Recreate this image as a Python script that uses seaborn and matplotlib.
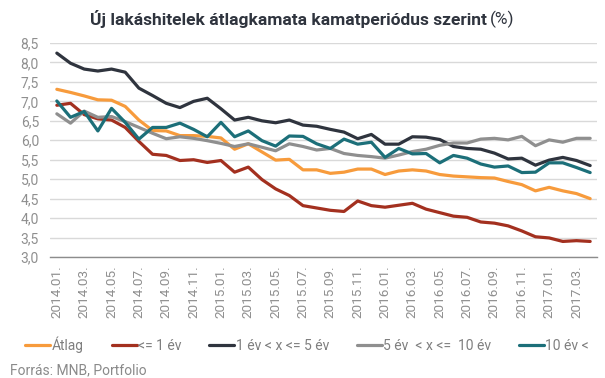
import matplotlib
matplotlib.use("Agg")
import matplotlib.pyplot as plt
import seaborn as sns
import pandas as pd
import numpy as np

months = ["2014.01.", "2014.02.", "2014.03.", "2014.04.", "2014.05.", "2014.06.", "2014.07.", "2014.08.",
          "2014.09.", "2014.10.", "2014.11.", "2014.12.", "2015.01.", "2015.02.", "2015.03.", "2015.04.",
          "2015.05.", "2015.06.", "2015.07.", "2015.08.", "2015.09.", "2015.10.", "2015.11.", "2015.12.",
          "2016.01.", "2016.02.", "2016.03.", "2016.04.", "2016.05.", "2016.06.", "2016.07.", "2016.08.",
          "2016.09.", "2016.10.", "2016.11.", "2016.12.", "2017.01.", "2017.02.", "2017.03.", "2017.04."]
tick_labels = months[::2]

atlag = [7.31, 7.23, 7.14, 7.04, 7.03, 6.87, 6.52, 6.25, 6.24, 6.12,
         6.12, 6.10, 6.06, 5.77, 5.91, 5.70, 5.49, 5.51, 5.24, 5.24,
         5.15, 5.18, 5.26, 5.26, 5.12, 5.21, 5.24, 5.21, 5.12, 5.08,
         5.06, 5.04, 5.03, 4.94, 4.86, 4.70, 4.79, 4.70, 4.63, 4.50]
le1 = [6.90, 6.95, 6.66, 6.55, 6.52, 6.33, 5.97, 5.64, 5.61, 5.48,
       5.50, 5.43, 5.48, 5.18, 5.31, 4.99, 4.75, 4.58, 4.32, 4.26,
       4.20, 4.17, 4.44, 4.32, 4.28, 4.33, 4.38, 4.23, 4.14, 4.05,
       4.02, 3.90, 3.87, 3.80, 3.67, 3.52, 3.49, 3.40, 3.42, 3.40]
y1_5 = [8.24, 7.98, 7.83, 7.78, 7.83, 7.75, 7.34, 7.15, 6.95, 6.84,
        7.00, 7.08, 6.81, 6.52, 6.59, 6.50, 6.45, 6.52, 6.39, 6.36,
        6.28, 6.21, 6.04, 6.15, 5.90, 5.90, 6.09, 6.08, 6.02, 5.84,
        5.79, 5.77, 5.67, 5.52, 5.54, 5.36, 5.49, 5.56, 5.48, 5.35]
y5_10 = [6.68, 6.44, 6.75, 6.59, 6.61, 6.48, 6.33, 6.18, 6.04, 6.09,
         6.05, 5.99, 5.92, 5.84, 5.91, 5.82, 5.73, 5.91, 5.84, 5.75,
         5.79, 5.66, 5.61, 5.58, 5.54, 5.62, 5.71, 5.77, 5.87, 5.93,
         5.93, 6.03, 6.05, 6.01, 6.10, 5.86, 6.01, 5.95, 6.05, 6.05]
y10 = [7.01, 6.59, 6.74, 6.24, 6.82, 6.46, 6.03, 6.33, 6.33, 6.44,
       6.28, 6.09, 6.46, 6.09, 6.24, 5.99, 5.85, 6.11, 6.10, 5.91,
       5.79, 6.03, 5.90, 5.95, 5.56, 5.79, 5.65, 5.66, 5.42, 5.61,
       5.54, 5.39, 5.31, 5.34, 5.17, 5.18, 5.42, 5.42, 5.30, 5.17]

series_names = ["Átlag", "<= 1 év", "1 év < x <= 5 év", "5 év  < x <=  10 év", "10 év <"]
series_values = [atlag, le1, y1_5, y5_10, y10]
colors = ["#F79B3C", "#A3301F", "#2F343E", "#8F8F8F", "#1C6F79"]

df = pd.concat([pd.DataFrame({"idx": np.arange(len(months)), "month": months, "value": v, "series": n})
                for n, v in zip(series_names, series_values)], ignore_index=True)

sns.set_theme(style="white")
plt.rcParams["font.family"] = ["Roboto", "DejaVu Sans"]

fig = plt.figure(figsize=(6.05, 3.78), dpi=100)
ax = fig.add_axes([50 / 605, 1 - 257 / 378, 547 / 605, 214 / 378])

sns.lineplot(data=df, x="idx", y="value", hue="series", hue_order=series_names,
             palette=colors, linewidth=2.3, ax=ax, legend=False, sort=False)

ax.set_xlim(-0.5, len(months) - 0.5)
ax.set_ylim(3.0, 8.5)
yt = np.arange(3.0, 8.51, 0.5)
ax.set_yticks(yt)
ax.set_yticklabels([f"{v:.1f}".replace(".", ",") for v in yt], color="#8F8F8F", fontsize=10)
ax.set_xticks(range(0, len(months), 2))
ax.set_xticklabels(tick_labels, rotation=90, color="#8F8F8F", fontsize=9.7)
ax.tick_params(axis="both", length=0, pad=6)
ax.tick_params(axis="y", pad=8)
ax.set_xlabel("")
ax.set_ylabel("")
ax.grid(axis="y", color="#D9D9D9", linewidth=1)
ax.set_axisbelow(True)
for s in ["top", "left", "right"]:
    ax.spines[s].set_visible(False)
ax.spines["bottom"].set_color("#8C8C8C")
ax.spines["bottom"].set_linewidth(1)

from matplotlib.lines import Line2D
handles = [Line2D([0], [0], color=c, linewidth=2.3) for c in colors]
fig.legend(handles, series_names, loc="center", bbox_to_anchor=(0.508, 1 - 345 / 378), ncol=5,
           frameon=False, fontsize=10, handlelength=1.8, handletextpad=0.1, columnspacing=2.0,
           labelcolor="#7F7F7F")

fig.text(10 / 605, 1 - 370 / 378, "Forrás: MNB, Portfolio", color="#8A8A8A", fontsize=10, va="center", ha="left")

t1 = fig.text(70 / 605, 1 - 19 / 378, "Új lakáshitelek átlagkamata kamatperiódus szerint",
              fontsize=12.5, fontweight="bold", color="#2F343E", va="center", ha="left")
fig.canvas.draw()
r = fig.canvas.get_renderer()
bb = t1.get_window_extent(r)
t2 = fig.text(bb.x1 / fig.bbox.width + 3 / 605, 1 - 19 / 378, "(%)", fontsize=12.5, color="#2F343E",
              va="center", ha="left")
fig.canvas.draw()
bb2 = t2.get_window_extent(r)
total = bb2.x1 - bb.x0
shift = (fig.bbox.width - total) / 2 - bb.x0
t1.set_x((bb.x0 + shift) / fig.bbox.width)
t2.set_x((bb2.x0 + shift) / fig.bbox.width)

fig.savefig("out.png", dpi=100)
